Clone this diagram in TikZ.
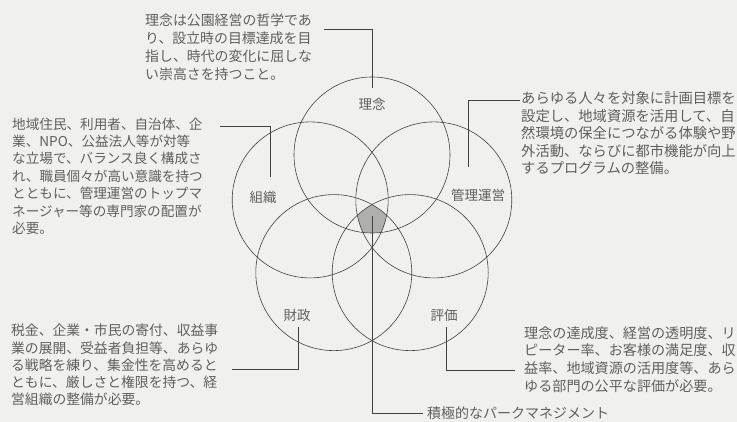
\documentclass[tikz,border=0pt]{standalone}
\usepackage{fontspec}
\newfontfamily\jp{Noto Sans CJK JP}
\definecolor{bgc}{RGB}{240,240,236}
\definecolor{txc}{RGB}{95,95,95}
\definecolor{lnc}{RGB}{65,65,65}
\definecolor{pent}{RGB}{175,175,172}
\begin{document}
\begin{tikzpicture}[x=1pt,y=-1pt,
  ring/.style={circle,draw=lnc,line width=0.6pt,minimum size=156pt,inner sep=0pt},
  blk/.style={anchor=north west,inner sep=0pt,align=left,text=txc},
  lab/.style={inner sep=0pt,text=txc,font=\jp\fontsize{13.5}{16}\selectfont},
  lead/.style={draw=lnc,line width=0.5pt}]
\useasboundingbox (0,0) rectangle (737,422);
\fill[bgc] (0,0) rectangle (737,422);
% shaded common region
\begin{scope}
  \clip (372,155) circle (78pt);
  \clip (310.2,199.9) circle (78pt);
  \clip (433.8,199.9) circle (78pt);
  \clip (333.8,272.6) circle (78pt);
  \fill[pent] (410.2,272.6) circle (78pt);
\end{scope}
% circles
\node[ring] (rinen) at (372,155) {};
\node[ring] (soshiki) at (310.2,199.9) {};
\node[ring] (kanri) at (433.8,199.9) {};
\node[ring] (zaisei) at (333.8,272.6) {};
\node[ring] (hyoka) at (410.2,272.6) {};
% circle labels
\node[lab] (lrinen) at (372,104) {理念};
\node[lab] (lsoshiki) at (263,197) {組織};
\node[lab] (lkanri) at (478,195) {管理運営};
\node[lab] (lzaisei) at (297,315) {財政};
\node[lab] (lhyoka) at (444,315) {評価};
% text blocks
\node[blk,font=\jp\fontsize{13.9}{17.8}\selectfont] (trinen) at (145,14) {理念は公園経営の哲学であ\\り、設立時の目標達成を目\\指し、時代の変化に屈しな\\い崇高さを持つこと。};
\node[blk,font=\jp\fontsize{13.6}{17.4}\selectfont] (tsoshiki) at (12,117.5) {地域住民、利用者、自治体、企\\業、NPO、公益法人等が対等\\な立場で、バランス良く構成さ\\れ、職員個々が高い意識を持つ\\とともに、管理運営のトップマ\\ネージャー等の専門家の配置が\\必要。};
\node[blk,font=\jp\fontsize{14.3}{17.5}\selectfont] (tkanri) at (521,91.5) {あらゆる人々を対象に計画目標を\\設定し、地域資源を活用して、自\\然環境の保全につながる体験や野\\外活動、ならびに都市機能が向上\\するプログラムの整備。};
\node[blk,font=\jp\fontsize{13.8}{17.2}\selectfont] (tzaisei) at (11,324) {税金、企業・市民の寄付、収益事\\業の展開、受益者負担等、あらゆ\\る戦略を練り、集金性を高めると\\ともに、厳しさと権限を持つ、経\\営組織の整備が必要。};
\node[blk,font=\jp\fontsize{14.1}{17.8}\selectfont] (thyoka) at (524,326) {理念の達成度、経営の透明度、リ\\ピーター率、お客様の満足度、収\\益率、地域資源の活用度等、あら\\ゆる部門の公平な評価が必要。};
\node[blk,anchor=west,font=\jp\fontsize{14}{17}\selectfont] (tpark) at (427,413) {積極的なパークマネジメント};
% leader coordinates
\coordinate (a1) at (324,29.3);
\coordinate (a2) at (372,88);
\coordinate (b1) at (220,126.7);
\coordinate (b2) at (270,176.7);
\coordinate (c1) at (520,100);
\coordinate (c2) at (468,167);
\coordinate (d1) at (232,369);
\coordinate (d2) at (298,327);
\coordinate (e1) at (515,370);
\coordinate (e2) at (446,327);
\coordinate (f1) at (372,216);
\coordinate (f2) at (423,413);
\draw[lead] (a1) -| (a2);
\draw[lead] (b1) -| (b2);
\draw[lead] (c1) -| (c2);
\draw[lead] (d1) -| (d2);
\draw[lead] (e1) -| (e2);
\draw[lead] (f1) |- (f2);
\end{tikzpicture}
\end{document}
